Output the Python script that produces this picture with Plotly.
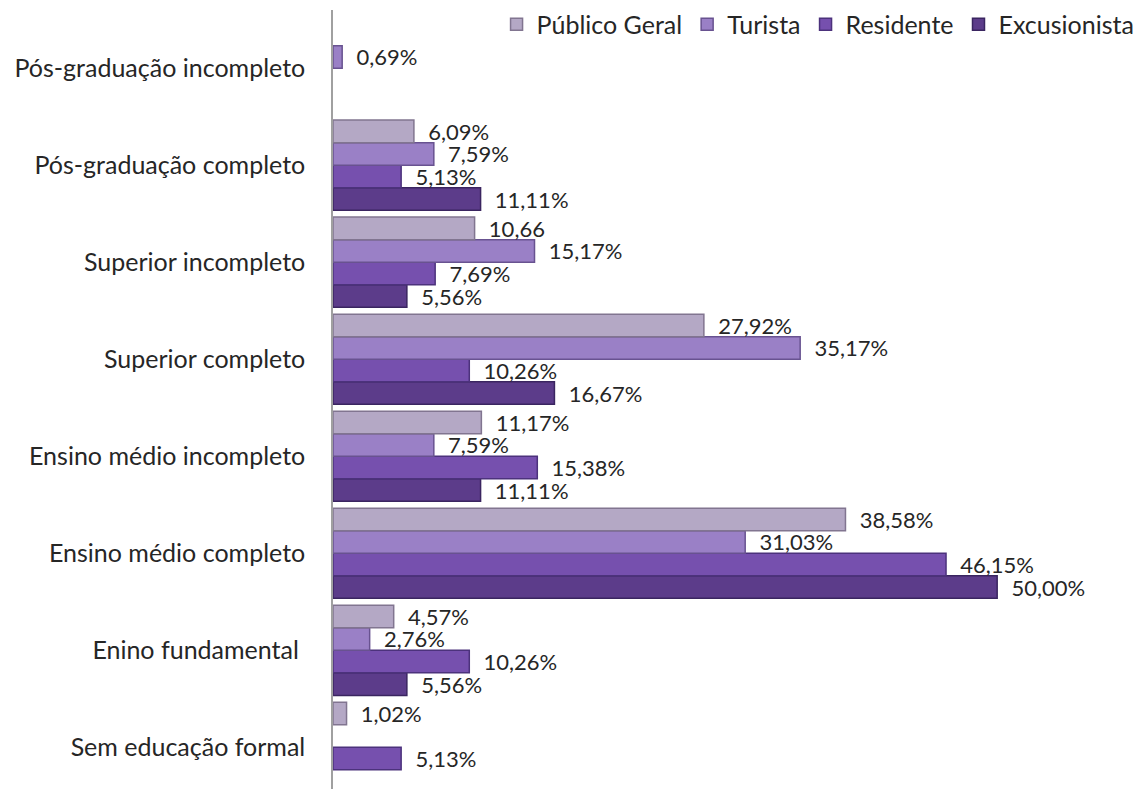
import plotly.graph_objects as go

categories = ["Sem educação formal", "Enino fundamental ", "Ensino médio completo",
              "Ensino médio incompleto", "Superior completo", "Superior incompleto",
              "Pós-graduação completo", "Pós-graduação incompleto"]

series_names = ["Público Geral", "Turista", "Residente", "Excusionista"]

publico_geral = [1.02, 4.57, 38.58, 11.17, 27.92, 10.66, 6.09, None]
turista = [None, 2.76, 31.03, 7.59, 35.17, 15.17, 7.59, 0.69]
residente = [5.13, 10.26, 46.15, 15.38, 10.26, 7.69, 5.13, None]
excusionista = [None, 5.56, 50.00, 11.11, 16.67, 5.56, 11.11, None]

publico_labels = ["1,02%", "4,57%", "38,58%", "11,17%", "27,92%", "10,66", "6,09%", ""]
turista_labels = ["", "2,76%", "31,03%", "7,59%", "35,17%", "15,17%", "7,59%", "0,69%"]
residente_labels = ["5,13%", "10,26%", "46,15%", "15,38%", "10,26%", "7,69%", "5,13%", ""]
excusionista_labels = ["", "5,56%", "50,00%", "11,11%", "16,67%", "5,56%", "11,11%", ""]

colors = {"Público Geral": ("#b4a8c5", "#817590"),
          "Turista": ("#9a80c6", "#685290"),
          "Residente": ("#7650ae", "#4c327c"),
          "Excusionista": ("#5c3c8a", "#3a2560")}

data = {"Público Geral": (publico_geral, publico_labels),
        "Turista": (turista, turista_labels),
        "Residente": (residente, residente_labels),
        "Excusionista": (excusionista, excusionista_labels)}

FONT = "Lato"

fig = go.Figure()
for name in reversed(series_names):
    vals, labels = data[name]
    fill, line = colors[name]
    fig.add_trace(go.Bar(
        y=categories, x=vals, name=name, orientation="h",
        marker=dict(color=fill, line=dict(color=line, width=1.5)),
        text=["  " + t if t else "" for t in labels],
        textposition="outside", cliponaxis=False, constraintext="none",
        textfont=dict(size=22, color="#262626", family=FONT),
    ))

fig.update_layout(
    width=1135, height=781,
    paper_bgcolor="white", plot_bgcolor="white",
    barmode="group", bargap=0.07, bargroupgap=0.0,
    margin=dict(l=325, r=13, t=2, b=0, autoexpand=False),
    font=dict(family=FONT, size=25, color="#262626"),
    showlegend=True,
    legend=dict(orientation="h", x=1.012, xanchor="right", y=1.011, yanchor="top",
                traceorder="reversed", font=dict(size=25, color="#262626"),
                bgcolor="rgba(255,255,255,0)", itemwidth=30),
    xaxis=dict(range=[0, 60], visible=False, showgrid=False, zeroline=False),
    yaxis=dict(categoryorder="array", categoryarray=categories, automargin=False,
               range=[-0.43, 7.6], showline=True, linecolor="#a0a0a0", linewidth=1.5,
               ticks="", ticklabelstandoff=21, showgrid=False, zeroline=False,
               tickfont=dict(size=25, color="#262626", family=FONT)),
)

fig.write_html("out.html")
